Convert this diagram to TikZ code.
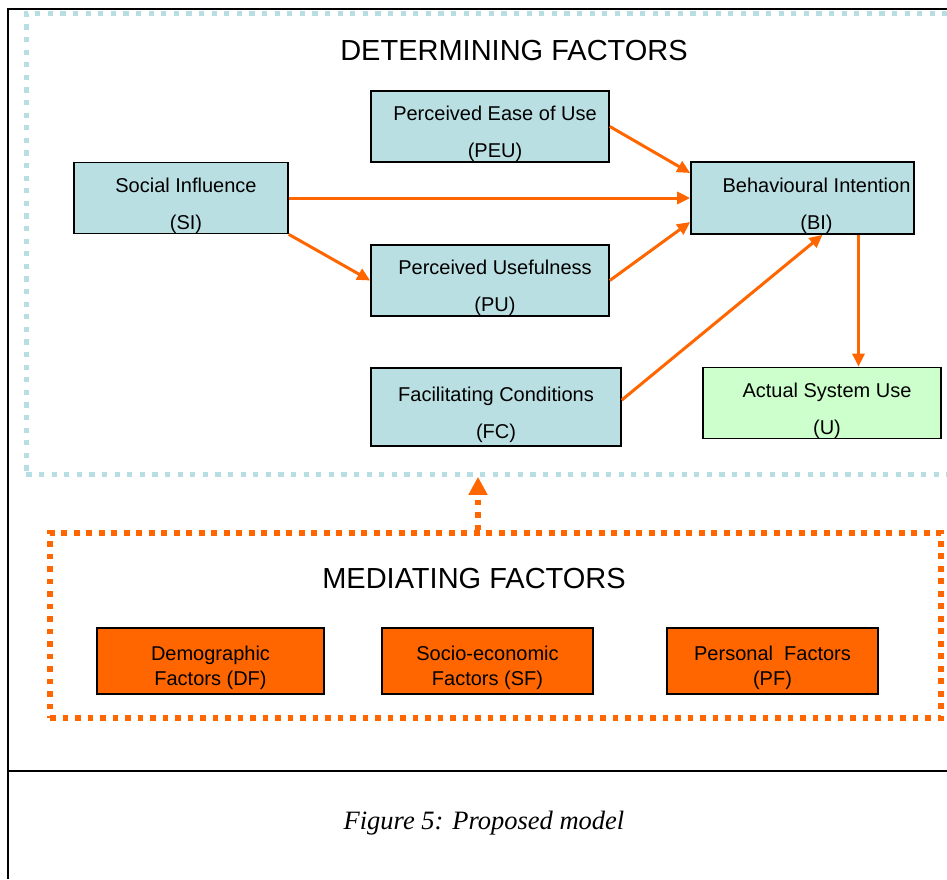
\documentclass[tikz,border=0pt]{standalone}
\usepackage{fontspec}
\setmainfont{Liberation Sans}
\newfontfamily\capfont{Liberation Serif}
\usetikzlibrary{arrows.meta}
\definecolor{boxcyan}{HTML}{BADFE2}
\definecolor{dotcyan}{HTML}{B7DEE2}
\definecolor{orng}{HTML}{FF6600}
\definecolor{usegreen}{HTML}{CCFFCC}
% struts that set the first text line a little lower in its box
\newcommand{\toplineA}{\rule{0pt}{30pt}}
\newcommand{\toplineB}{\rule{0pt}{28pt}}
\tikzset{
  factor/.style={draw=black, line width=1.6pt, fill=boxcyan, align=center,
    font=\fontsize{20}{37}\selectfont, inner sep=0pt},
  mediator/.style={draw=black, line width=1.6pt, fill=orng, align=center,
    font=\fontsize{20}{25}\selectfont, inner sep=0pt, minimum height=66},
  link/.style={draw=orng, line width=3pt, -{Triangle[length=13pt,width=12pt]}},
  cyanframe/.style={draw=dotcyan, line width=5.2pt, dash pattern=on 5.2pt off 7.4pt, inner sep=0pt},
  orangeframe/.style={draw=orng, line width=5.6pt, dash pattern=on 5.6pt off 6.9pt, inner sep=0pt},
  medlink/.style={draw=orng, line width=5.6pt, dash pattern=on 5.6pt off 6.9pt,
    -{Triangle[length=18pt,width=18pt]}},
  heading/.style={anchor=base, font=\fontsize{29}{34}\selectfont}
}
\begin{document}
\begin{tikzpicture}[x=1pt,y=-1pt]
\useasboundingbox (0,0) rectangle (947,879);
\clip (0,0) rectangle (947,879);

% page frame and caption rule
\draw[line width=2.6pt] (947,9) -- (8,9) -- (8,879);
\draw[line width=2.6pt] (8,771) -- (947,771);

% dotted group frames
\node[cyanframe, minimum width=942, minimum height=461] (DET) at (497.3,243.7) {};
\node[orangeframe, minimum width=891, minimum height=185] (MED) at (495.5,625.5) {};

% headings
\node[heading] (DT) at (514,60.5) {DETERMINING FACTORS};
\node[heading] (MT) at (474,588) {MEDIATING FACTORS};

% determining factors
\node[factor, minimum width=238, minimum height=71] (PEU) at (490,126.5)
  {\toplineA\hspace*{10pt}Perceived Ease of Use\\\hspace*{10pt}(PEU)};
\node[factor, minimum width=214, minimum height=70] (SI) at (181,198)
  {\toplineA\hspace*{10pt}Social Influence\\\hspace*{10pt}(SI)};
\node[factor, minimum width=223, minimum height=72] (BI) at (802.5,198)
  {\toplineA\hspace*{28pt}Behavioural Intention\\\hspace*{28pt}(BI)};
\node[factor, minimum width=238, minimum height=71] (PU) at (490,280.5)
  {\toplineA\hspace*{10pt}Perceived Usefulness\\\hspace*{10pt}(PU)};
\node[factor, minimum width=250, minimum height=78] (FC) at (496,407)
  {\toplineA Facilitating Conditions\\(FC)};
\node[factor, fill=usegreen, minimum width=238, minimum height=70] (U) at (822,403)
  {\toplineA\hspace*{10pt}Actual System Use\\\hspace*{10pt}(U)};

% mediating factors
\node[mediator, minimum width=227] (DF) at (210.5,661) {\toplineB Demographic\\Factors (DF)};
\node[mediator, minimum width=211] (SF) at (487.5,661) {\toplineB Socio-economic\\Factors (SF)};
\node[mediator, minimum width=211] (PF) at (772.5,661) {\toplineB Personal\ \ Factors\\(PF)};

% caption
\node[anchor=base, font=\capfont\itshape\fontsize{26.5}{30}\selectfont] (CAP) at (484,829)
  {Figure 5: Proposed model};

% relations
\draw[link] (PEU.east) -- ([yshift=25pt]BI.west);
\draw[link] (SI.east) -- (BI.west);
\draw[link] (SI.south east) -- (PU.west);
\draw[link] (PU.east) -- ([yshift=-24pt]BI.west);
\draw[link] ([yshift=7pt]FC.east) -- ([xshift=20pt]BI.south);
\draw[link] ([xshift=56pt]BI.south) -- ([xshift=56pt]BI.south |- U.north);

% mediating factors act on the determining factors
\draw[medlink] ([xshift=-17.5pt]MED.north) -- ([xshift=-19.3pt]DET.south);
\end{tikzpicture}
\end{document}
